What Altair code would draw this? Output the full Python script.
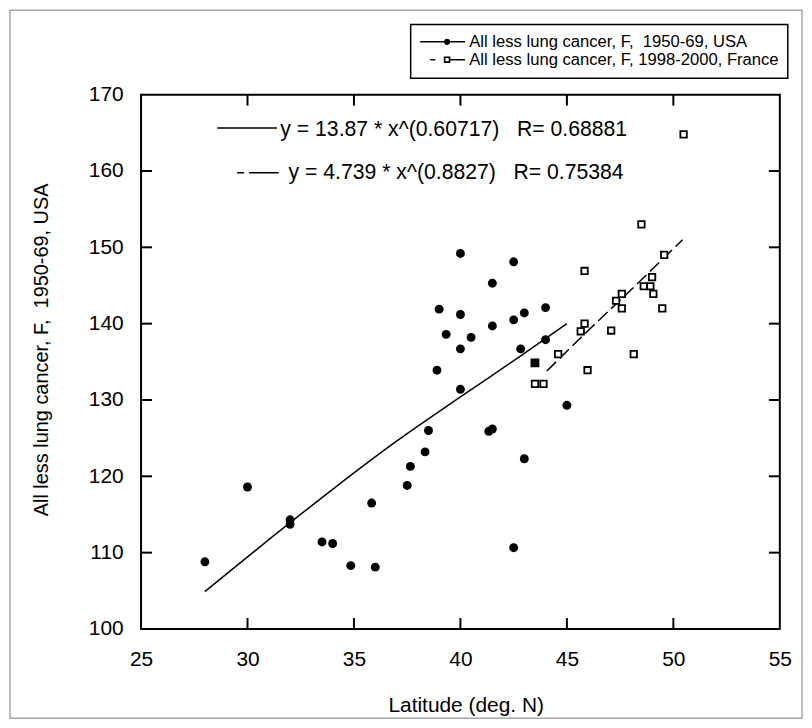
import math
import altair as alt
import pandas as pd

# ---------------- data ----------------
usa_lat = [40.0, 42.5, 41.5, 39.0, 40.0, 41.5, 42.5, 43.0, 44.0, 39.33,
           40.5, 40.0, 42.83, 44.0, 38.9, 40.0, 45.0, 38.5, 41.33, 41.5,
           38.34, 37.65, 43.0, 28.0, 30.0, 32.0, 32.0, 33.5, 34.0, 34.85,
           36.0, 35.83, 37.5, 42.5]
usa_rate = [149.2, 148.1, 145.3, 141.9, 141.2, 139.7, 140.5, 141.4, 142.1, 138.6,
            138.2, 136.7, 136.7, 137.9, 133.9, 131.4, 129.3, 126.0, 125.9, 126.2,
            123.2, 121.3, 122.3, 108.8, 118.6, 114.3, 113.7, 111.4, 111.2, 108.3,
            108.1, 116.5, 118.8, 110.65]

fr_lat = [45.83, 45.83, 45.65, 44.59, 43.5, 43.9, 45.97, 47.08, 48.14, 47.58,
          47.31, 47.58, 48.61, 49.0, 48.92, 49.06, 49.48, 49.57, 50.48, 48.5]
fr_rate = [146.9, 140.0, 139.0, 136.0, 132.1, 132.1, 133.9, 139.1, 136.0, 143.9,
           143.0, 142.0, 144.9, 146.1, 144.9, 143.9, 142.0, 149.0, 164.8, 153.0]

fr_filled_lat = [43.5]
fr_filled_rate = [134.85]

usa_fit_lat = [28.0, 31.0, 34.0, 37.0, 40.0, 43.0, 45.0]
usa_fit_rate = [104.9, 111.7, 118.3, 124.6, 130.4, 136.1, 140.0]
fr_fit_lat = [44.06, 46.0, 48.0, 50.43]
fr_fit_rate = [133.8, 139.1, 144.4, 151.0]

x_ticks = [25, 30, 35, 40, 45, 50, 55]
y_ticks = [100, 110, 120, 130, 140, 150, 160, 170]
x_inner_ticks = [30, 35, 40, 45, 50]
y_inner_ticks = [110, 120, 130, 140, 150, 160]

NB = "\u00a0"
series_names = ["All less lung cancer, F, " + NB + "1950-69, USA",
                "All less lung cancer, F, 1998-2000, France"]
eq_texts = ["y = 13.87 * x^(0.60717) " + NB + NB + "R= 0.68881",
            "y = 4.739 * x^(0.8827) " + NB + NB + "R= 0.75384"]
x_title = "Latitude (deg. N)"
y_title = "All less lung cancer, F, " + NB + "1950-69, USA"

# ---------------- styling ----------------
FONT = "Liberation Sans, Arial, sans-serif"
W, H = 642, 537

xs = alt.Scale(domain=[25, 55], nice=False, zero=False)
ys = alt.Scale(domain=[100, 170], nice=False, zero=False)

x_axis = alt.Axis(values=x_ticks, ticks=False, tickSize=0, domain=False, grid=False,
                  labelFlush=False, labelOverlap=False, labelFont=FONT, labelFontSize=21,
                  labelColor="black", labelPadding=36.7, labelBaseline="alphabetic",
                  title=x_title, titleFont=FONT, titleFontSize=21, titleFontWeight="normal",
                  titleColor="black", titleX=326.3, titleY=82.7,
                  titleBaseline="alphabetic", titleAlign="center")
y_axis = alt.Axis(values=y_ticks, ticks=False, tickSize=0, domain=False, grid=False,
                  labelOverlap=False, labelFont=FONT, labelFontSize=21, labelColor="black",
                  labelPadding=18, labelBaseline="middle",
                  title=y_title, titleFont=FONT, titleFontSize=20, titleFontWeight="normal",
                  titleColor="black", titleX=-94, titleY=256, titleAngle=270,
                  titleBaseline="alphabetic", titleAlign="center")


def X(f="lat"):
    return alt.X(f, type="quantitative", scale=xs, axis=x_axis)


def Y(f="rate"):
    return alt.Y(f, type="quantitative", scale=ys, axis=y_axis)


usa_df = pd.DataFrame({"lat": usa_lat, "rate": usa_rate})
fr_df = pd.DataFrame({"lat": fr_lat, "rate": fr_rate})
frf_df = pd.DataFrame({"lat": fr_filled_lat, "rate": fr_filled_rate})
usa_fit_df = pd.DataFrame({"lat": usa_fit_lat, "rate": usa_fit_rate})
fr_fit_df = pd.DataFrame({"lat": fr_fit_lat, "rate": fr_fit_rate})
xt_df = pd.DataFrame({"lat": x_inner_ticks})
yt_df = pd.DataFrame({"rate": y_inner_ticks})

# outer gray frame of the picture
frame = alt.Chart(pd.DataFrame({"k": [0]})).mark_rect(
    filled=False, stroke="#a6a6a6", strokeWidth=1.5
).encode(x=alt.value(-131.7), x2=alt.value(664.3), y=alt.value(-84.8), y2=alt.value(626.7))

usa_fit = alt.Chart(usa_fit_df).mark_line(color="black", strokeWidth=1.5, interpolate="monotone").encode(
    x=X(), y=Y())
fr_fit = alt.Chart(fr_fit_df).mark_line(color="black", strokeWidth=1.5, strokeDash=[13, 5],
                                        interpolate="monotone").encode(x=X(), y=Y())

usa_pts = alt.Chart(usa_df).mark_point(shape="circle", filled=True, color="black",
                                       size=80, opacity=1).encode(x=X(), y=Y())
fr_pts = alt.Chart(fr_df).mark_point(shape="square", filled=True, fill="white", stroke="black",
                                     strokeWidth=1.8, size=42, opacity=1).encode(x=X(), y=Y())
frf_pts = alt.Chart(frf_df).mark_point(shape="square", filled=True, fill="black", stroke="black",
                                       strokeWidth=1.8, size=50, opacity=1).encode(x=X(), y=Y())

tick_style = dict(color="black", strokeWidth=2)
t_bottom = alt.Chart(xt_df).mark_rule(**tick_style).encode(x=X(), y=alt.value(H), y2=alt.value(H - 11))
t_top = alt.Chart(xt_df).mark_rule(**tick_style).encode(x=X(), y=alt.value(0), y2=alt.value(11))
t_left = alt.Chart(yt_df).mark_rule(**tick_style).encode(y=Y(), x=alt.value(0), x2=alt.value(11))
t_right = alt.Chart(yt_df).mark_rule(**tick_style).encode(y=Y(), x=alt.value(W), x2=alt.value(W - 11))

# equation annotations
eq1_df = pd.DataFrame({"t": [eq_texts[0]]})
eq2_df = pd.DataFrame({"t": [eq_texts[1]]})
eq1_rule = alt.Chart(eq1_df).mark_rule(color="black", strokeWidth=1.5).encode(
    x=alt.value(76.6), x2=alt.value(136.6), y=alt.value(33.4))
eq2_rule = alt.Chart(eq2_df).mark_rule(color="black", strokeWidth=1.5, strokeDash=[7, 5, 30, 5]).encode(
    x=alt.value(96.6), x2=alt.value(138.3), y=alt.value(78.4))
eq1_text = alt.Chart(eq1_df).mark_text(font=FONT, fontSize=21.3, align="left", baseline="alphabetic",
                                       color="black").encode(
    x=alt.value(140), y=alt.value(41.7), text="t:N")
eq2_text = alt.Chart(eq2_df).mark_text(font=FONT, fontSize=21.3, align="left", baseline="alphabetic",
                                       color="black").encode(
    x=alt.value(148.3), y=alt.value(85), text="t:N")


# legend symbols: line + marker drawn as filled geometry (custom symbol path, unit = 7 px)
def poly_circle(cx, r, n=16):
    pts = [(cx + r * math.cos(2 * math.pi * k / n), r * math.sin(2 * math.pi * k / n)) for k in range(n)]
    return "M" + "L".join(f"{px:.3f},{py:.3f}" for px, py in pts) + "Z"


def box(x0, x1, y0, y1, reverse=False):
    pts = [(x0, y0), (x1, y0), (x1, y1), (x0, y1)]
    if reverse:
        pts = pts[::-1]
    return "M" + "L".join(f"{px:.3f},{py:.3f}" for px, py in pts) + "Z"


LW = 0.107  # half line thickness (0.75 px)
path_usa = box(-1.107, 5.32, -LW, LW) + poly_circle(2.75, 0.45)
path_fr = (box(0.32, 1.04, -LW, LW)
           + box(2.28, 3.22, -0.47, 0.47) + box(2.52, 2.98, -0.23, 0.23, reverse=True)
           + box(3.22, 5.32, -LW, LW))

leg = alt.Legend(title=None, orient="none", legendX=271, legendY=-70.5, direction="vertical",
                 symbolSize=196, symbolStrokeWidth=0, symbolStrokeColor="black",
                 symbolFillColor="black", symbolOpacity=1,
                 labelFont=FONT, labelFontSize=16.7, labelColor="black", labelOffset=33.2,
                 labelLimit=600, padding=9, strokeColor="black", fillColor="white", rowPadding=0)

leg_df = pd.DataFrame({"series": series_names})
legend_layer = alt.Chart(leg_df).mark_point(filled=True, color="black",
                                            size=196, opacity=1).encode(
    x=alt.value(-3000), y=alt.value(-3000),
    shape=alt.Shape("series:N", scale=alt.Scale(domain=series_names, range=[path_usa, path_fr]),
                    legend=leg),
)

chart = alt.layer(
    frame, usa_fit, fr_fit, t_bottom, t_top, t_left, t_right,
    usa_pts, fr_pts, frf_pts,
    eq1_rule, eq2_rule, eq1_text, eq2_text, legend_layer,
).properties(
    width=W, height=H,
    autosize=alt.AutoSizeParams(type="none"),
    padding={"left": 133.7, "top": 85.3, "right": 24.3, "bottom": 91.7},
    background="white",
).configure_view(
    stroke="black", strokeWidth=2
).configure_legend(
    strokeWidth=1.5
)

chart.save("out.html", embed_options={"renderer": "svg", "actions": False})
